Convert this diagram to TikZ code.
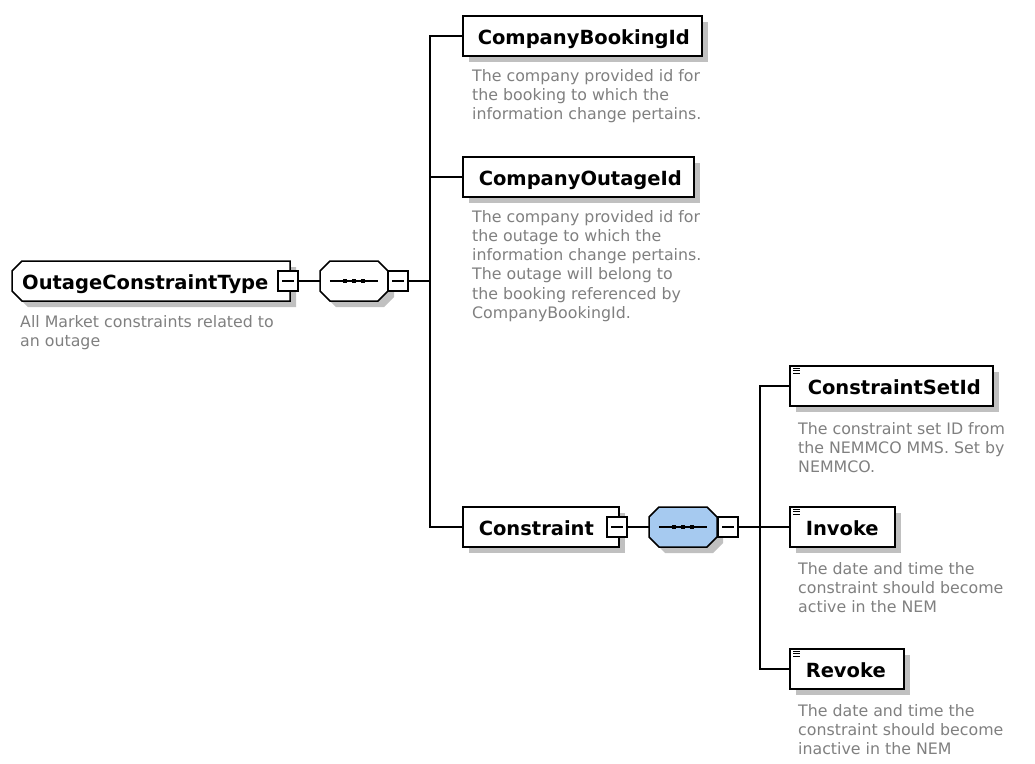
\documentclass[tikz,border=0pt]{standalone}
\usepackage{fontspec}
\setmainfont{DejaVu Sans}
\usetikzlibrary{calc,shadows}
\definecolor{shadowgray}{RGB}{192,192,192}
\definecolor{seqblue}{RGB}{166,202,240}
\definecolor{descgray}{RGB}{128,128,128}
\newcommand\elemfont{\fontsize{19.5}{22}\selectfont\bfseries}
\newcommand\descfont{\fontsize{15.8}{19.2}\selectfont}
\newcommand\seqoct[3]{%
 \fill[shadowgray] ({#1-24+6},{#2-20+6}) -- ({#1+24+6},{#2-20+6}) -- ({#1+34+6},{#2-10+6}) -- ({#1+34+6},{#2+10+6}) -- ({#1+24+6},{#2+20+6}) -- ({#1-24+6},{#2+20+6}) -- ({#1-34+6},{#2+10+6}) -- ({#1-34+6},{#2-10+6}) -- cycle;
 \draw[line width=1.5pt, fill=#3] ({#1-24},{#2-20}) -- ({#1+24},{#2-20}) -- ({#1+34},{#2-10}) -- ({#1+34},{#2+10}) -- ({#1+24},{#2+20}) -- ({#1-24},{#2+20}) -- ({#1-34},{#2+10}) -- ({#1-34},{#2-10}) -- cycle;}
\begin{document}
\begin{tikzpicture}[x=1pt,y=-1pt,
 elem/.style={draw, fill=white, line width=1.5pt, minimum height=40pt, inner xsep=0pt, inner ysep=0pt,
   text height=18pt, text depth=2pt, align=left, font=\elemfont, anchor=west,
   drop shadow={shadow xshift=6pt, shadow yshift=-6pt, fill=shadowgray, opacity=1, draw=none}},
 minus/.style={draw, fill=white, line width=1.3pt, minimum size=20pt, inner sep=0pt,
   path picture={\draw[line width=1.3pt] ([xshift=4pt]path picture bounding box.west) -- ([xshift=-4pt]path picture bounding box.east);}},
 desc/.style={anchor=north west, inner sep=0pt, align=left, font=\descfont, text=descgray},
 conn/.style={line width=1.3pt},
 icon/.style={line width=0.9pt},
 seqbox/.style={minimum width=68pt, minimum height=40pt, inner sep=0pt},
]
\fill[white] (0,0) rectangle (1035,763);
\useasboundingbox (0,0) rectangle (1035,763);

% root element shape
\fill[shadowgray] (28,267) -- (296,267) -- (296,307) -- (28,307) -- (18,297) -- (18,277) -- cycle;
\draw[line width=1.5pt, fill=white] (22,261) -- (290,261) -- (290,301) -- (22,301) -- (12,291) -- (12,271) -- cycle;
\node[font=\elemfont, anchor=west, minimum width=278pt, minimum height=40pt, inner sep=0pt,
  text width=258pt, align=left, text height=18pt, text depth=2pt] (root) at (12,281) {\mbox{OutageConstraintType}};
\node[desc] (rootd) at (20,315) {All Market constraints related to\\an outage};

% sequence 1
\seqoct{354}{281}{white}
\node[seqbox] (seq1) at (354,281) {};
\draw[conn] ([xshift=10pt]seq1.west) -- ([xshift=-10pt]seq1.east);
\foreach \dx in {-9,0,9} \fill ([xshift=\dx pt]seq1.center) ++(-2.25pt,-2.25pt) rectangle ++(4.5pt,4.5pt);

% sequence 2
\seqoct{683}{527}{seqblue}
\node[seqbox] (seq2) at (683,527) {};
\draw[conn] ([xshift=10pt]seq2.west) -- ([xshift=-10pt]seq2.east);
\foreach \dx in {-9,0,9} \fill ([xshift=\dx pt]seq2.center) ++(-2.25pt,-2.25pt) rectangle ++(4.5pt,4.5pt);

% elements
\node[elem, minimum width=239pt, text width=209pt] (cbid) at (462,36) {\mbox{CompanyBookingId}};
\node[elem, minimum width=231pt, text width=199pt] (coid) at (462,177) {\mbox{CompanyOutageId}};
\node[elem, minimum width=156pt, text width=124pt] (constraint) at (462,527) {\mbox{Constraint}};
\node[elem, minimum width=203pt, text width=167pt] (csid) at (789,386) {\mbox{ConstraintSetId}};
\node[elem, minimum width=105pt, text width=73pt] (invoke) at (789,527) {\mbox{Invoke}};
\node[elem, minimum width=114pt, text width=82pt] (revoke) at (789,669) {\mbox{Revoke}};

% simple-type icons
\foreach \n in {csid,invoke,revoke}{
  \foreach \dy in {3,5.5,8} \draw[icon] ([shift={(4pt,-\dy pt)}]\n.north west) -- ++(7pt,0pt);
}

% descriptions
\node[desc] (cbidd) at (472,69) {The company provided id for\\the booking to which the\\information change pertains.};
\node[desc] (coidd) at (472,210) {The company provided id for\\the outage to which the\\information change pertains.\\The outage will belong to\\the booking referenced by\\CompanyBookingId.};
\node[desc] (csidd) at (798,422) {The constraint set ID from\\the NEMMCO MMS. Set by\\NEMMCO.};
\node[desc] (invd) at (798,562) {The date and time the\\constraint should become\\active in the NEM};
\node[desc] (revd) at (798,704) {The date and time the\\constraint should become\\inactive in the NEM};

% minus boxes
\node[minus] (m0) at (288,281) {};
\node[minus] (m1) at (398,281) {};
\node[minus] (m2) at (617,527) {};
\node[minus] (m3) at (728,527) {};

% connectors
\coordinate (j1) at (430,281);
\coordinate (j2) at (760,527);
\draw[conn] (m0.east) -- (seq1.west);
\draw[conn] (m1.east) -- (j1);
\draw[conn] (cbid.west) -| (j1) |- (constraint.west);
\draw[conn] (coid.west) -- (coid.west -| j1);
\draw[conn] (m2.east) -- (seq2.west);
\draw[conn] (m3.east) -- (invoke.west);
\draw[conn] (csid.west) -| (j2) |- (revoke.west);
\end{tikzpicture}
\end{document}
